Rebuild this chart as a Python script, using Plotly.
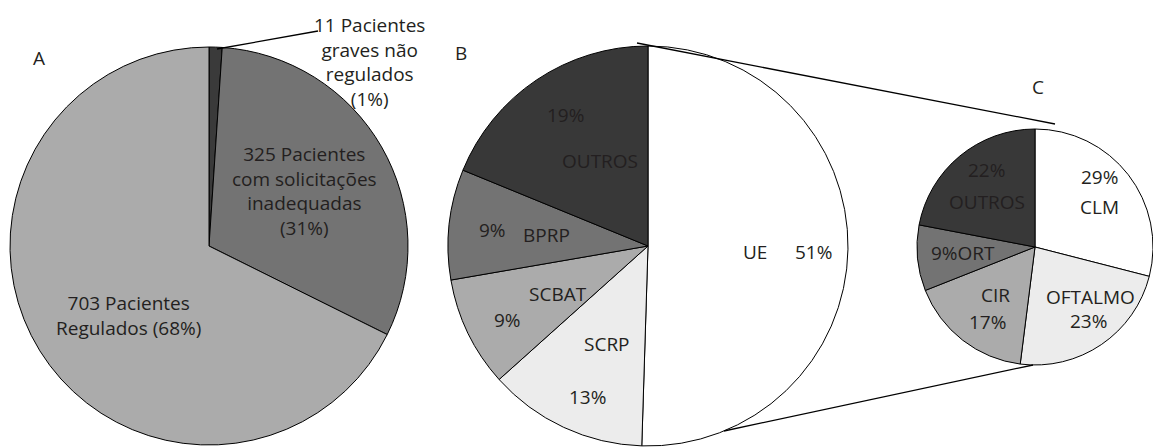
import plotly.graph_objects as go

W, H = 1153, 447

# ---- data ----
a_labels = ["Pacientes graves não regulados", "Pacientes com solicitações inadequadas", "Pacientes Regulados"]
a_values = [11, 325, 703]
a_colors = ["#3a3a3a", "#737373", "#ababab"]

b_labels = ["UE", "SCRP", "SCBAT", "BPRP", "OUTROS"]
b_values = [51, 13, 9, 9, 19]
b_colors = ["#ffffff", "#ececec", "#ababab", "#737373", "#383838"]

c_labels = ["CLM", "OFTALMO", "CIR", "ORT", "OUTROS"]
c_values = [29, 23, 17, 9, 22]
c_colors = ["#ffffff", "#ececec", "#ababab", "#737373", "#383838"]

FONT = "Open Sans"
TXT = "#231f20"
FS = 19


def px_dom(cx, cy, r):
    return dict(x=[(cx - r) / W, (cx + r) / W], y=[1 - (cy + r) / H, 1 - (cy - r) / H])


fig = go.Figure()
common = dict(sort=False, direction="clockwise", rotation=0, textinfo="none",
              hoverinfo="label+value+percent", showlegend=False)

fig.add_trace(go.Pie(labels=a_labels, values=a_values, domain=px_dom(209, 246, 199),
                     marker=dict(colors=a_colors, line=dict(color="#000", width=1)), **common))
fig.add_trace(go.Pie(labels=b_labels, values=b_values, domain=px_dom(648, 246, 200),
                     marker=dict(colors=b_colors, line=dict(color="#000", width=1)), **common))
fig.add_trace(go.Pie(labels=c_labels, values=c_values, domain=px_dom(1035, 247, 118),
                     marker=dict(colors=c_colors, line=dict(color="#000", width=1)), **common))

# ---- text labels (position in pixels) ----
texts = [
    ("A", 39, 58),
    ("B", 461, 53),
    ("C", 1038, 87),
    ("11 Pacientes<br>graves não<br>regulados<br>(1%)", 369, 62),
    ("325 Pacientes<br>com solicitações<br>inadequadas<br>(31%)", 304, 191),
    ("703 Pacientes<br>Regulados (68%)", 128, 315),
    ("19%", 565, 115),
    ("OUTROS", 600, 161),
    ("9%", 492, 230),
    ("BPRP", 546, 235),
    ("SCBAT", 558, 294),
    ("9%", 507, 320),
    ("SCRP", 607, 344),
    ("13%", 587, 397),
    ("UE", 755, 252),
    ("51%", 813, 252),
    ("22%", 986, 170),
    ("OUTROS", 987, 202),
    ("9%ORT", 963, 253),
    ("29%", 1099, 177),
    ("CLM", 1099, 207),
    ("CIR", 995, 295),
    ("17%", 987, 322),
    ("OFTALMO", 1090, 297),
    ("23%", 1088, 321),
]
for t, x, y in texts:
    fig.add_annotation(text=t, x=x / W, y=1 - y / H, xref="paper", yref="paper",
                       xanchor="center", yanchor="middle", showarrow=False,
                       font=dict(family=FONT, size=FS, color=TXT))

# ---- connector lines (pixels) ----
lines = [
    (217, 49, 318, 31),
    (637, 43, 1055, 124),
    (724, 431, 1033, 365),
]
for x0, y0, x1, y1 in lines:
    fig.add_shape(type="line", xref="paper", yref="paper",
                  x0=x0 / W, y0=1 - y0 / H, x1=x1 / W, y1=1 - y1 / H,
                  line=dict(color="#000", width=1.3))

fig.update_layout(width=W, height=H, margin=dict(l=0, r=0, t=0, b=0),
                  paper_bgcolor="#ffffff", plot_bgcolor="#ffffff",
                  font=dict(family=FONT, color=TXT))

fig.write_html("out.html", config={"displayModeBar": False},
               post_script="document.body.style.margin='0';document.body.style.overflow='hidden';")
